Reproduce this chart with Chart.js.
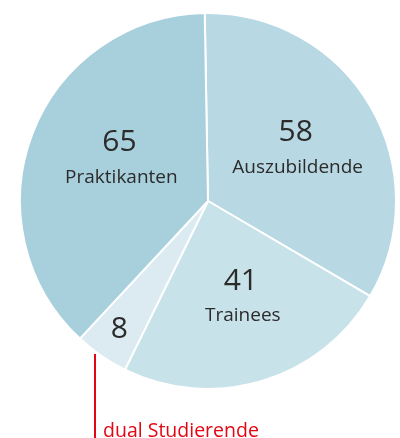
<!DOCTYPE html>
<html>
<head>
<meta charset="utf-8">
<script src="https://cdn.jsdelivr.net/npm/chart.js@4/dist/chart.umd.min.js"></script>
<style>
  html, body { margin: 0; padding: 0; background: #fff; }
  #wrap { width: 400px; height: 438px; }
</style>
</head>
<body>
<div id="wrap"><canvas id="pieChart" width="400" height="438"></canvas></div>
<script>
// Daten
const categories = ['Auszubildende', 'Trainees', 'dual Studierende', 'Praktikanten'];
const values = [58, 41, 8, 65];
const sliceColors = ['#b8d8e3', '#c8e2ea', '#dbebf1', '#a8cfdc'];

// Lage der Beschriftung je Segment (Radiusanteil, Winkelverschiebung in Grad)
const labelRadius = [0.54, 0.545, 0.83, 0.52];
const labelShift = [0, -2, 0, 4];

const pieLabels = {
    id: 'pieLabels',
    afterDatasetsDraw(chart) {
        const ctx = chart.ctx;
        const meta = chart.getDatasetMeta(0);
        ctx.save();
        ctx.textAlign = 'center';
        ctx.textBaseline = 'middle';
        meta.data.forEach((arc, i) => {
            const p = arc.getProps(['x', 'y', 'startAngle', 'endAngle', 'outerRadius'], true);
            const mid = (p.startAngle + p.endAngle) / 2 + labelShift[i] * Math.PI / 180;
            const r = p.outerRadius * labelRadius[i];
            const cx = p.x + Math.cos(mid) * r;
            const cy = p.y + Math.sin(mid) * r;
            ctx.fillStyle = '#2b2b2b';
            ctx.font = '30px "Open Sans", sans-serif';
            if (i === 2) {
                ctx.fillText(values[i], cx, cy);
                // rote Hinweislinie + Text
                const a = p.startAngle + (p.endAngle - p.startAngle) * 0.65;
                const lx = Math.round(p.x + Math.cos(a) * p.outerRadius);
                const ly = p.y + Math.sin(a) * p.outerRadius + 3;
                ctx.strokeStyle = '#e30613';
                ctx.lineWidth = 2;
                ctx.beginPath();
                ctx.moveTo(lx, ly);
                ctx.lineTo(lx, chart.height);
                ctx.stroke();
                ctx.fillStyle = '#e30613';
                ctx.textAlign = 'left';
                ctx.textBaseline = 'alphabetic';
                ctx.font = '19.5px "Open Sans", sans-serif';
                ctx.fillText(categories[i], lx + 8, chart.height - 1);
                ctx.textAlign = 'center';
                ctx.textBaseline = 'middle';
            } else {
                ctx.fillText(values[i], cx, cy - 17);
                ctx.font = '19px "Open Sans", sans-serif';
                ctx.fillText(categories[i], cx + 2, cy + 18);
            }
        });
        ctx.restore();
    }
};

const ctx = document.getElementById('pieChart').getContext('2d');
new Chart(ctx, {
    type: 'pie',
    data: {
        labels: categories,
        datasets: [{
            data: values,
            backgroundColor: sliceColors,
            borderColor: '#ffffff',
            borderWidth: 2
        }]
    },
    options: {
        responsive: false,
        animation: false,
        rotation: -1,
        layout: { padding: { left: 19, right: 3, top: 11, bottom: 47 } },
        plugins: {
            legend: { display: false },
            tooltip: { enabled: false }
        }
    },
    plugins: [pieLabels]
});
</script>
</body>
</html>
